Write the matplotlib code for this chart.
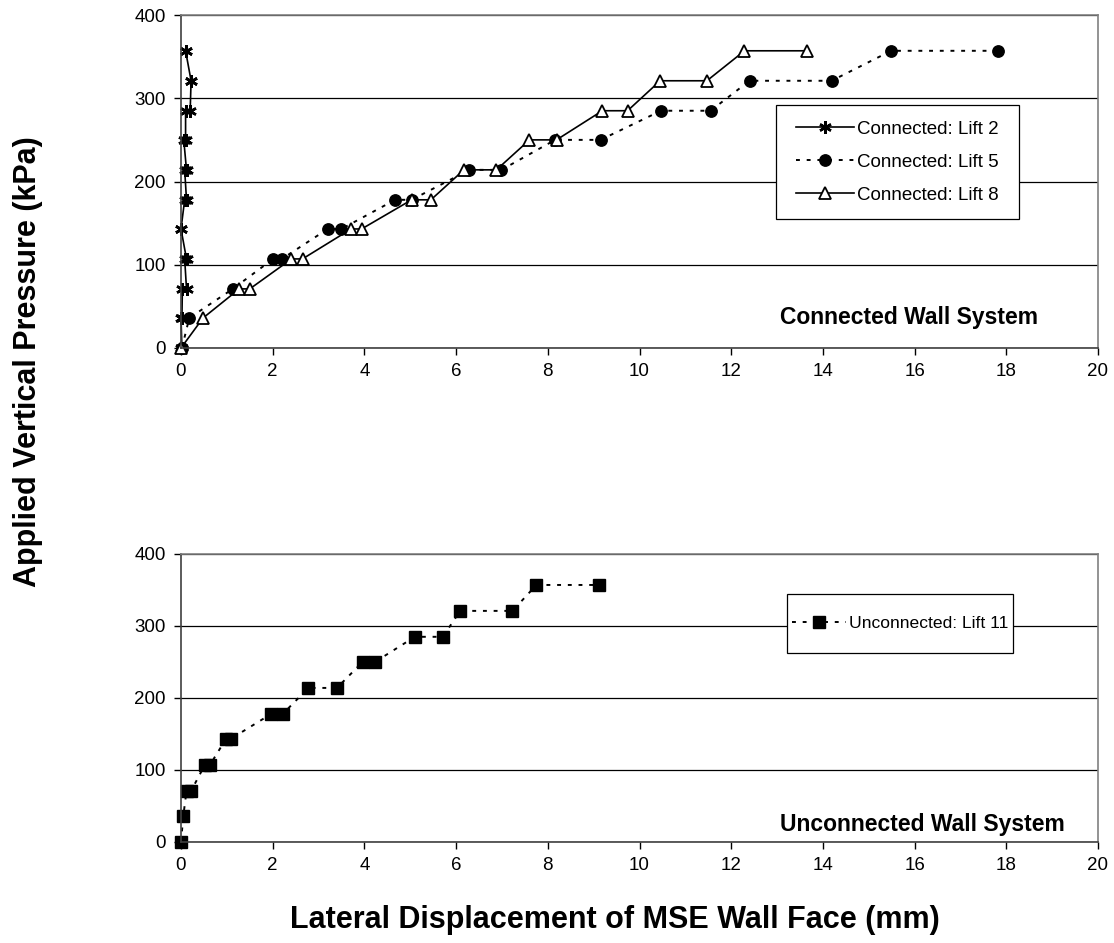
import matplotlib.pyplot as plt
from matplotlib.patches import Rectangle

plt.rcParams['font.family'] = ['Liberation Sans', 'DejaVu Sans']

# applied pressure steps (kPa), each step read twice (start / end of hold)
p_lift2 = [0, 0, 36, 36, 71, 71, 107, 107, 143, 143, 178, 178, 214, 214,
           250, 250, 285, 285, 321, 321, 357, 357]
d_lift2 = [0.0, 0.02, 0.0, 0.02, 0.03, 0.12, 0.08, 0.12, 0.0, 0.0, 0.08, 0.12,
           0.08, 0.12, 0.06, 0.1, 0.1, 0.2, 0.22, 0.22, 0.1, 0.1]

p_lift5 = [0, 36, 71, 107, 107, 143, 143, 178, 178, 214, 214, 250, 250,
           285, 285, 321, 321, 357, 357]
d_lift5 = [0.02, 0.18, 1.13, 2.01, 2.20, 3.20, 3.50, 4.67, 5.03, 6.29, 6.99,
           8.16, 9.15, 10.47, 11.55, 12.40, 14.19, 15.49, 17.81]

p_lift8 = [0, 36, 71, 71, 107, 107, 143, 143, 178, 178, 214, 214, 250, 250,
           285, 285, 321, 321, 357, 357]
d_lift8 = [0.0, 0.48, 1.27, 1.50, 2.41, 2.65, 3.71, 3.94, 5.03, 5.45, 6.17,
           6.88, 7.60, 8.19, 9.19, 9.74, 10.45, 11.47, 12.29, 13.65]

p_lift11 = [0, 36, 71, 71, 107, 107, 143, 143, 178, 178, 214, 214, 250, 250,
            285, 285, 321, 321, 357, 357]
d_lift11 = [0.0, 0.05, 0.12, 0.22, 0.52, 0.63, 0.98, 1.08, 1.97, 2.22, 2.78,
            3.40, 3.96, 4.23, 5.10, 5.71, 6.09, 7.23, 7.75, 9.12]

x_ticks = list(range(0, 21, 2))
y_ticks = [0, 100, 200, 300, 400]

W, H = 1114, 943


def style_axes(ax):
    ax.set_xlim(0, 20)
    ax.set_ylim(0, 400)
    ax.set_xticks(x_ticks)
    ax.set_yticks(y_ticks)
    ax.tick_params(labelsize=13.5, direction='out', length=5, width=1, pad=6)
    ax.grid(axis='y', color='black', lw=0.9)
    ax.set_axisbelow(True)
    for side in ('top', 'right'):
        ax.spines[side].set_color('#808080')
        ax.spines[side].set_linewidth(1.2)
    for side in ('left', 'bottom'):
        ax.spines[side].set_color('#404040')
        ax.spines[side].set_linewidth(1.2)


def boxed_legend(ax, x0, y0, x1, y1, size, **kw):
    # square frame drawn as a patch, legend entries centred inside it
    ax.add_patch(Rectangle((x0, y0), x1 - x0, y1 - y0, transform=ax.transAxes,
                           facecolor='white', edgecolor='black', lw=0.9,
                           zorder=4, clip_on=False))
    leg = ax.legend(loc='center', bbox_to_anchor=((x0 + x1) / 2, (y0 + y1) / 2),
                    fontsize=size, frameon=False, handlelength=3.1,
                    handletextpad=0.15, borderpad=0, **kw)
    leg.set_zorder(5)
    return leg


fig = plt.figure(figsize=(W / 100, H / 100), dpi=100)

ax1 = fig.add_axes([181 / W, 1 - 348 / H, 917 / W, 333 / H])
style_axes(ax1)
ax1.plot(d_lift2, p_lift2, color='black', lw=1.2, marker=(6, 2, 0),
         ms=9, mew=1.8, clip_on=False, label='Connected: Lift 2')
ax1.plot(d_lift5, p_lift5, color='black', lw=1.4, ls=(0, (2, 3.5)),
         marker='o', ms=8.2, clip_on=False, label='Connected: Lift 5')
ax1.plot(d_lift8, p_lift8, color='black', lw=1.2, marker='^', ms=8.5,
         mfc='white', mec='black', mew=1.3, clip_on=False,
         label='Connected: Lift 8')
ax1.text((780 - 181) / 917, 0.093, 'Connected Wall System',
         transform=ax1.transAxes, ha='left', va='center', fontsize=16.5,
         fontweight='bold')
boxed_legend(ax1, (776 - 181) / 917, (348 - 219) / 333,
             (1019 - 181) / 917, (348 - 105) / 333, 13.5, labelspacing=0.85)

ax2 = fig.add_axes([181 / W, 1 - 842 / H, 917 / W, 288 / H])
style_axes(ax2)
ax2.plot(d_lift11, p_lift11, color='black', lw=1.4, ls=(0, (2, 3.5)),
         marker='s', ms=8, clip_on=False, label='Unconnected: Lift 11')
ax2.text((780 - 181) / 917, 0.0625, 'Unconnected Wall System',
         transform=ax2.transAxes, ha='left', va='center', fontsize=16.5,
         fontweight='bold')
boxed_legend(ax2, (787 - 181) / 917, (842 - 653) / 288,
             (1013 - 181) / 917, (842 - 594) / 288, 12.6)

fig.text(28 / W, 1 - 362 / H, 'Applied Vertical Pressure (kPa)', rotation=90,
         ha='center', va='center', fontsize=22, fontweight='bold')
fig.text(615 / W, 1 - 920 / H, 'Lateral Displacement of MSE Wall Face (mm)',
         ha='center', va='center', fontsize=22, fontweight='bold')

fig.savefig('out.png', dpi=100)
